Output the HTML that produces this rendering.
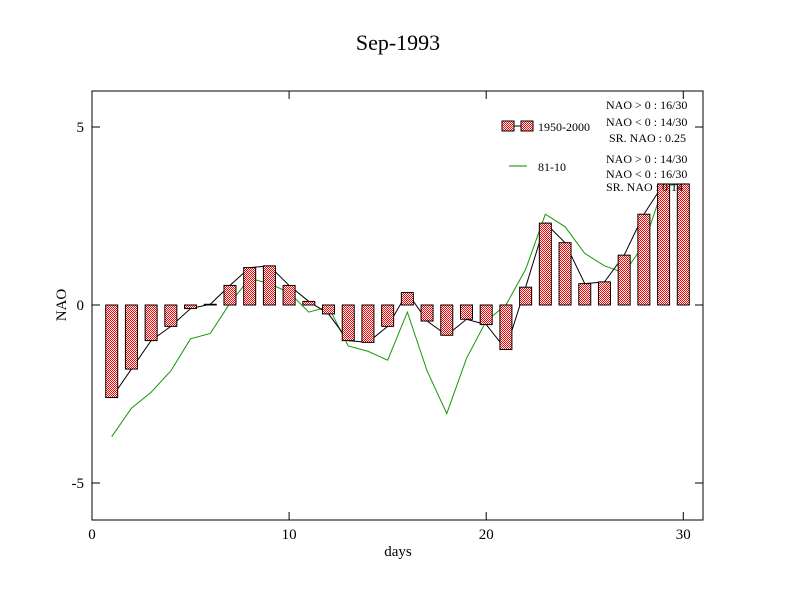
<!DOCTYPE html>
<html><head><meta charset="utf-8"><style>body{margin:0;background:#fff}svg{display:block}text{font-family:"Liberation Serif",serif;fill:#000}</style></head>
<body>
<svg id="c" width="792" height="612">
<defs><pattern id="chk" width="2" height="2" patternUnits="userSpaceOnUse"><rect width="2" height="2" fill="#fff"/><rect width="1" height="1" fill="#f00"/><rect x="1" y="1" width="1" height="1" fill="#f00"/></pattern></defs>
<text x="398" y="50" font-size="22" text-anchor="middle">Sep-1993</text>
<rect x="92" y="91" width="611" height="429" fill="none" stroke="#000"/>
<g id="ax"></g><g id="marks"></g>
<text x="398" y="556" font-size="15" text-anchor="middle">days</text>
<text x="66" y="305" font-size="15" text-anchor="middle" transform="rotate(-90 66 305)">NAO</text>
<g font-size="12">
<rect x="502" y="121" width="12" height="10" fill="url(#chk)" stroke="#000"/><line x1="514" y1="126" x2="521" y2="126" stroke="#000"/><rect x="521" y="121" width="12" height="10" fill="url(#chk)" stroke="#000"/>
<text x="538" y="131">1950-2000</text>
<line x1="509" y1="166" x2="527" y2="166" stroke="#080"/><text x="538" y="171">81-10</text>
<text x="606" y="109">NAO &gt; 0 : 16/30</text><text x="606" y="126">NAO &lt; 0 : 14/30</text><text x="609" y="142">SR. NAO :  0.25</text>
<text x="606" y="163">NAO &gt; 0 : 14/30</text><text x="606" y="178">NAO &lt; 0 : 16/30</text><text x="606" y="191">SR. NAO :  0.14</text>
</g>
</svg>
<script>
const days=[1,2,3,4,5,6,7,8,9,10,11,12,13,14,15,16,17,18,19,20,21,22,23,24,25,26,27,28,29,30];
const bars=[-2.6,-1.8,-1.0,-0.6,-0.1,0.02,0.55,1.05,1.1,0.55,0.1,-0.25,-1.0,-1.05,-0.6,0.35,-0.45,-0.85,-0.4,-0.55,-1.25,0.5,2.3,1.75,0.6,0.65,1.4,2.55,3.4,3.4];
const green=[-3.7,-2.9,-2.45,-1.85,-0.95,-0.8,0.05,0.75,0.6,0.35,-0.2,-0.05,-1.15,-1.3,-1.55,-0.2,-1.85,-3.05,-1.5,-0.45,0.0,1.0,2.55,2.2,1.45,1.1,0.9,1.7,3.35,3.4];
const xTicks=[0,10,20,30];
const yTicks=[-5,0,5];
const NS='http://www.w3.org/2000/svg';
const X=v=>92+v*19.71, Y=v=>305-v*35.6;
function mk(t,a,p){const e=document.createElementNS(NS,t);for(const k in a)e.setAttribute(k,a[k]);p.appendChild(e);return e;}
const ax=document.getElementById('ax'), g=document.getElementById('marks');
xTicks.forEach(t=>{const l=mk('line',{x1:X(t),x2:X(t),y1:520,y2:512,stroke:'#000'},ax);


const l2=mk('line',{x1:X(t),x2:X(t),y1:91,y2:99,stroke:'#000'},ax);


const tx=mk('text',{x:X(t),y:539,'font-size':15,'text-anchor':'middle'},ax);tx.textContent=t;

});
yTicks.forEach(t=>{const l=mk('line',{x1:92,x2:100,y1:Y(t),y2:Y(t),stroke:'#000'},ax);


const l2=mk('line',{x1:695,x2:703,y1:Y(t),y2:Y(t),stroke:'#000'},ax);


const tx=mk('text',{x:84,y:Y(t)+5,'font-size':15,'text-anchor':'end'},ax);tx.textContent=t;

});
const gl=mk('polyline',{points:days.map((d,i)=>X(d)+','+Y(green[i])).join(' '),fill:'none',stroke:'#190'},g);


const bl=mk('polyline',{points:days.map((d,i)=>X(d)+','+Y(bars[i])).join(' '),fill:'none',stroke:'#000'},g);


days.forEach((d,i)=>{const v=bars[i];const r=mk('rect',{x:X(d)-6,y:Math.min(Y(v),Y(0)),width:12,height:Math.abs(Y(v)-Y(0)),fill:'url(#chk)',stroke:'#000'},g);

});
</script>
</body></html>
